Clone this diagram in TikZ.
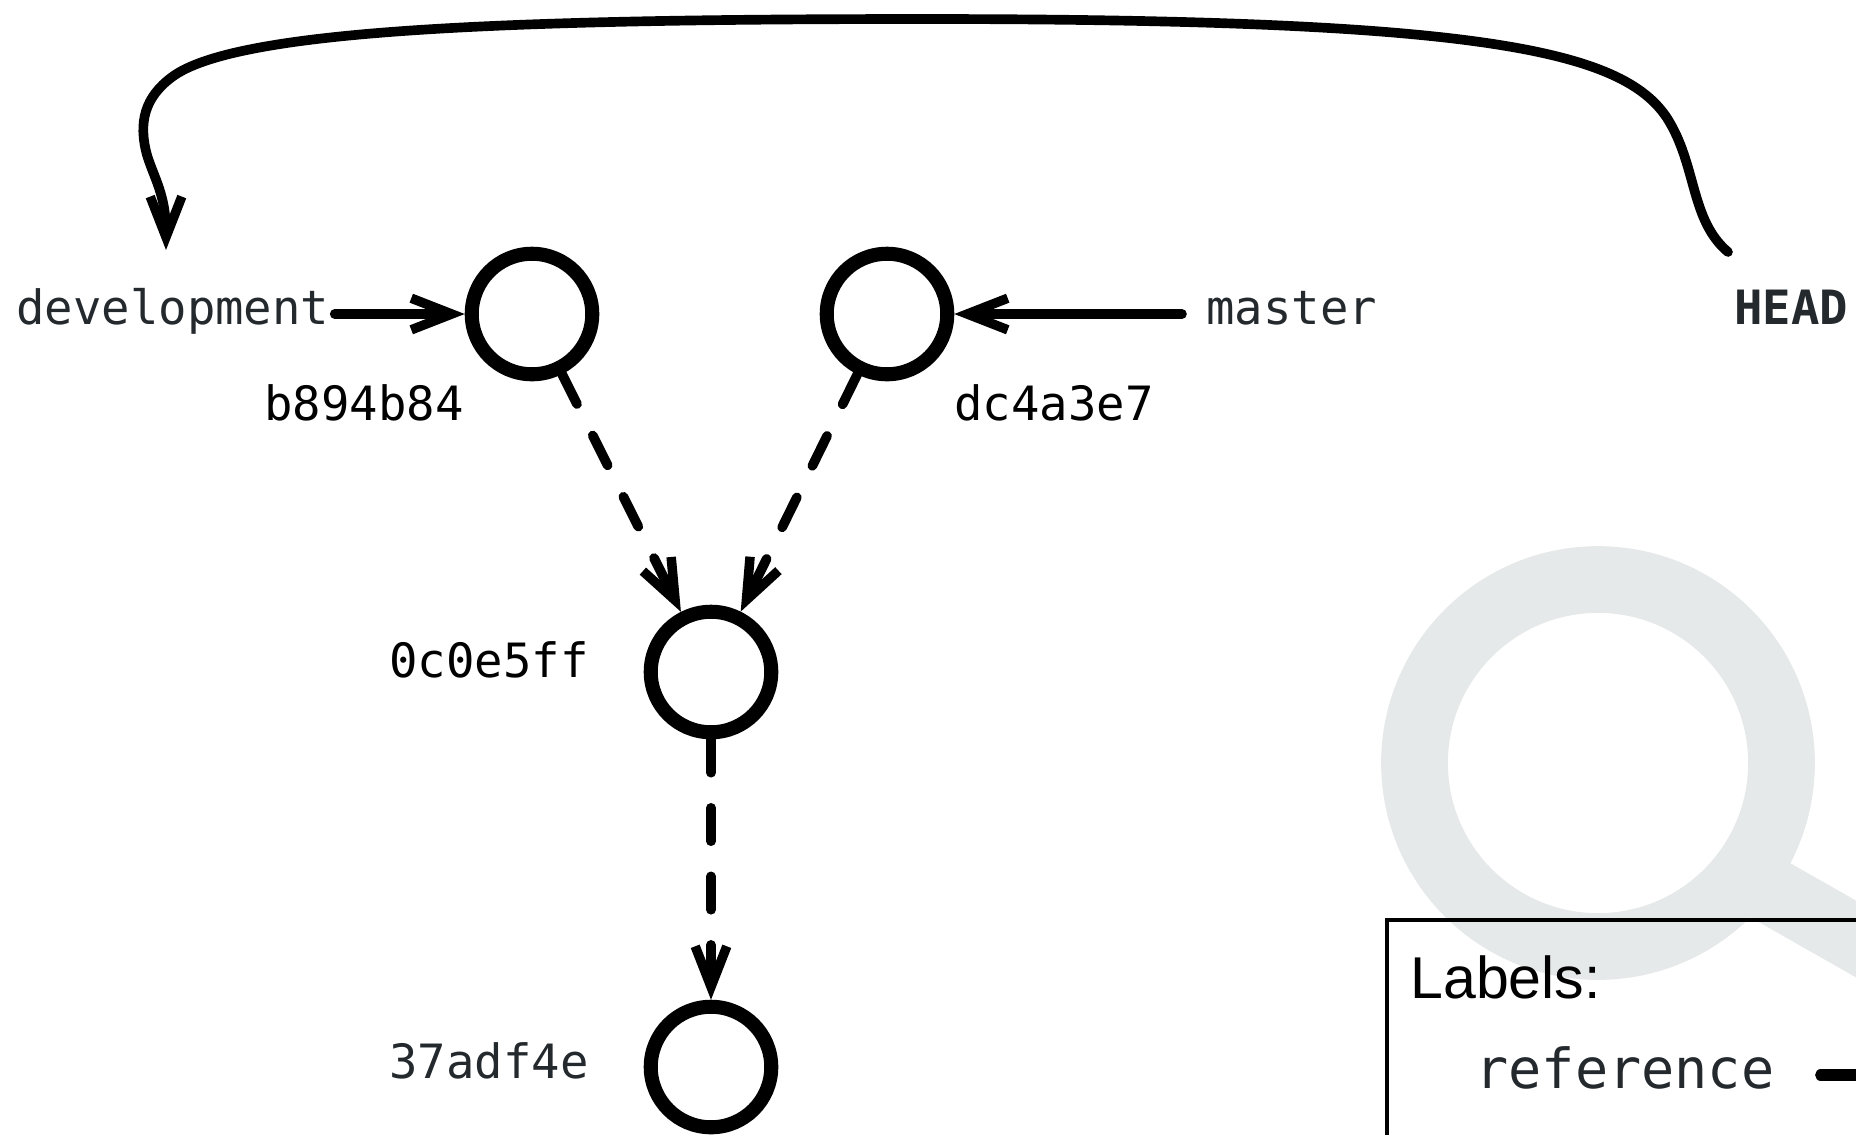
\documentclass[tikz,border=0pt]{standalone}
\usepackage{fontspec}
\setmainfont{Liberation Sans}
\setmonofont{DejaVu Sans Mono}
\usetikzlibrary{calc,arrows.meta}
\definecolor{slate}{HTML}{24292E}
\definecolor{watermark}{HTML}{E6E9E9}

\begin{document}
\begin{tikzpicture}[x=0.02cm,y=-0.02cm]
     \tikzstyle{commit}=[draw,circle,line width=8pt,inner sep=0pt,minimum size=68.6pt]
     \tikzstyle{hash}=[anchor=base west,inner sep=0pt,font=\fontsize{26.9}{30}\selectfont\ttfamily]
     \tikzstyle{label}=[hash,text=slate]
     \tikzstyle{tip}=[-{Straight Barb[length=23pt,width=18pt,line width=5.4pt]}]
     \tikzstyle{ref}=[tip,line width=5.5pt,line cap=round]
     \tikzstyle{parent}=[ref,dash pattern=on 19pt off 20pt]

     \clip (0,0) rectangle (1856,1134);
     \useasboundingbox (0,0) rectangle (1856,1134);

     \draw[watermark, line width=38pt] (1598,763) circle (183.5);
     \draw[watermark, line width=38pt] (1740,873) -- (1900,964);

     \node[commit] (C1) at (532,314) {};
     \node[commit] (C2) at (887,314) {};
     \node[commit] (C3) at (711,672) {};
     \node[commit] (C4) at (711,1067) {};

     \node[hash] (H1) at (264,420) {b894b84};
     \node[hash] (H2) at (954,420) {dc4a3e7};
     \node[hash] (H3) at (389,677) {0c0e5ff};
     \node[label] (H4) at (389,1078) {37adf4e};

     \node[label] (development) at (16,324) {development};
     \node[label] (master) at (1206,324) {master};
     \node[label, font=\fontsize{26.9}{30}\selectfont\ttfamily\bfseries] (HEAD) at (1734,324) {HEAD};

     \draw[ref] ($(development.east |- C1) + (5,0)$) -- (C1);
     \draw[ref] ($(master.west |- C2) + (-24,0)$) -- (C2);
     \draw[parent] (C1) -- (C3);
     \draw[parent] (C2) -- (C3);
     \draw[parent] (C3) -- (C4);

     \coordinate (headout) at (1728,252);
     \coordinate (devin) at (166,250);
     \draw[ref] (headout) .. controls (1690,220) and (1697,165) .. (1667,118)
                          .. controls (1622,50) and (1480,19) .. (923,19)
                          .. controls (500,19) and (235,30) .. (172,77)
                          .. controls (145,97) and (138,122) .. (147,155)
                          .. controls (154,178) and (166,195) .. (devin);

     % legend runs off the page
     \node[draw,line width=2.8pt,minimum width=900,minimum height=600,anchor=north west,
           inner sep=0pt,outer sep=0pt] (legend) at (1387,920) {};
     \node[anchor=base west,inner sep=0pt,font=\fontsize{33.6}{36}\selectfont] (labels) at (1410,998) {Labels:};
     \node[label, font=\fontsize{31.4}{34}\selectfont\ttfamily] (reference) at (1475,1088) {reference};
     \coordinate (refend) at (1900,1075);
     \draw[line width=6.3pt,line cap=round] (reference.east |- refend) ++(46,0) -- (refend);
\end{tikzpicture}
\end{document}
